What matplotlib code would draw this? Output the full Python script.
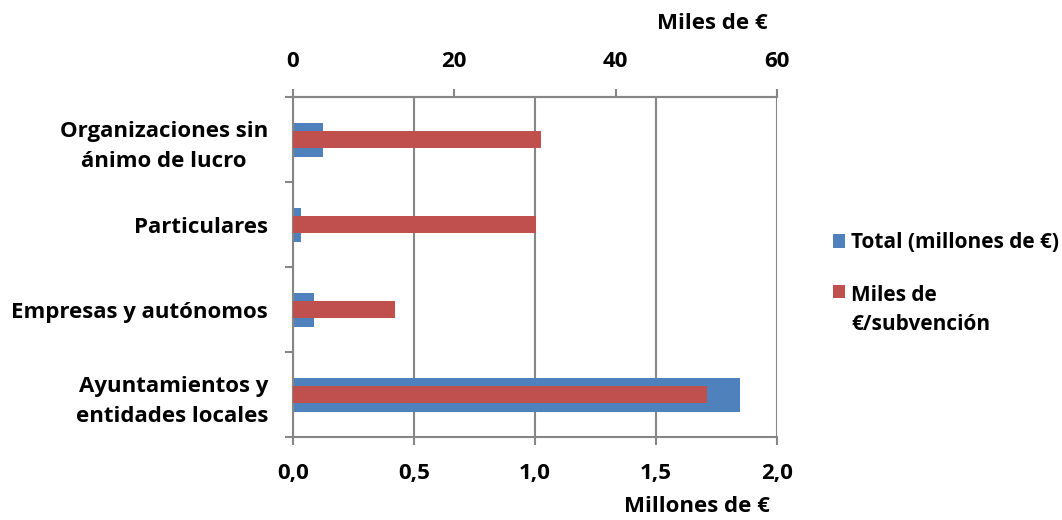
import numpy as np
import matplotlib
matplotlib.use("Agg")
import matplotlib.pyplot as plt

plt.rcParams['font.family'] = ['Open Sans', 'DejaVu Sans']
plt.rcParams['font.weight'] = 'bold'

# categories from bottom to top
categories = ["Ayuntamientos y\nentidades locales", "Empresas y autónomos",
              "Particulares", "Organizaciones sin\nánimo de lucro"]
total_millones = [1.847, 0.088, 0.032, 0.125]
miles_por_subvencion = [51.3, 12.6, 30.1, 30.8]

bottom_ticks = [0.0, 0.5, 1.0, 1.5, 2.0]
bottom_ticklabels = ["0,0", "0,5", "1,0", "1,5", "2,0"]
top_ticks = [0, 20, 40, 60]

BLUE = "#4F81BD"
RED = "#C0504D"
GRAY = "#868686"
FS = 16
LEG_FS = 15

fig = plt.figure(figsize=(10.62, 5.20), dpi=100)
ax = fig.add_axes([0.2759, 0.1596, 0.4557, 0.6538])
y = np.arange(len(categories))

b1 = ax.barh(y, total_millones, height=0.4, color=BLUE, label="Total (millones de €)", zorder=2)
ax.set_xlim(0, 2.0)
ax.set_ylim(-0.5, len(categories) - 0.5)
ax.set_axisbelow(True)
ax.xaxis.grid(True, color=GRAY, linewidth=1.5)
ax.set_xticks(bottom_ticks)
ax.set_xticklabels(bottom_ticklabels, fontsize=FS, fontweight='bold')
ax.tick_params(axis='x', direction='out', length=6, width=1.5, color=GRAY, pad=13)

ax.set_yticks(y)
ax.set_yticklabels(categories, fontsize=FS, fontweight='bold')
ax.set_yticks(np.arange(-0.5, len(categories)), minor=True)
ax.tick_params(axis='y', which='major', length=0, pad=18)
ax.tick_params(axis='y', which='minor', direction='out', length=6, width=1.5, color=GRAY)
for lbl, ma in zip(ax.get_yticklabels(), ['right', 'center', 'center', 'center']):
    lbl.set_multialignment(ma)
    lbl.set_linespacing(1.55)

for s in ['left', 'bottom', 'top']:
    ax.spines[s].set_color(GRAY)
    ax.spines[s].set_linewidth(1.5)
ax.spines['right'].set_visible(False)

ax2 = ax.twiny()
b2 = ax2.barh(y, miles_por_subvencion, height=0.19, color=RED, label="Miles de\n€/subvención", zorder=3)
ax2.set_xlim(0, 60)
ax2.set_xticks(top_ticks)
ax2.set_xticklabels([str(t) for t in top_ticks], fontsize=FS, fontweight='bold')
ax2.tick_params(axis='x', direction='out', length=6, width=1.5, color=GRAY, pad=12)
for s in ['left', 'bottom', 'right']:
    ax2.spines[s].set_visible(False)
ax2.spines['top'].set_color(GRAY)
ax2.spines['top'].set_linewidth(1.5)

fig.text(0.725, 0.026, "Millones de €", ha='right', va='center', fontsize=FS, fontweight='bold')
fig.text(0.723, 0.955, "Miles de €", ha='right', va='center', fontsize=FS, fontweight='bold')

leg = fig.legend(handles=[b1, b2], loc='upper left', bbox_to_anchor=(0.784, 0.553),
                 frameon=False, fontsize=LEG_FS, handlelength=0.6, handleheight=0.6,
                 handletextpad=0.3, labelspacing=1.5, borderaxespad=0, borderpad=0)
for t in leg.get_texts():
    t.set_fontweight('bold')
    t.set_linespacing(1.55)
# put the square next to the first line of a two-line label
for col in leg._legend_handle_box.get_children():
    for row in col.get_children():
        txt = row.get_children()[-1]
        if "\n" in txt.get_text():
            row.align = 'top'

fig.savefig("out.png", dpi=100)
